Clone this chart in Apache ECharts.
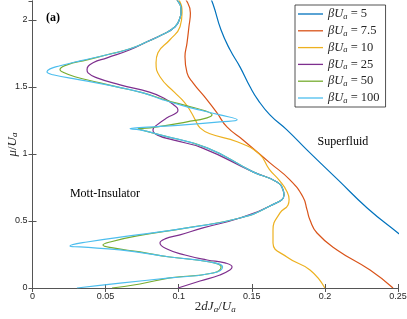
<!DOCTYPE html>
<html><head><meta charset="utf-8">
<script src="https://cdn.jsdelivr.net/npm/echarts@6/dist/echarts.min.js"></script>
<style>html,body{margin:0;padding:0;background:#fff}#c{width:407px;height:319px}</style>
</head><body><div id="c"></div>
<script>
// beta*U_a values (legend)
const betaValues = ['5', '7.5', '10', '25', '50', '100'];
const colors = ['#0072BD', '#D95319', '#EDB120', '#7E2F8E', '#77AC30', '#4DBEEE'];
const xTicks = [0, 0.05, 0.1, 0.15, 0.2, 0.25];
const yTicks = [0, 0.5, 1, 1.5, 2];

// each curve: [2dJ_a/U_a, mu/U_a], ordered along mu
const beta5 = [[0.274,0.2],[0.25,0.41],[0.2289,0.597],[0.209,0.806],[0.1877,1.03],[0.174,1.179],[0.1624,1.291],[0.1542,1.403],[0.1488,1.5],[0.1419,1.649],[0.1351,1.776],[0.1289,1.925],[0.1235,2.116],[0.120,2.2]];
const beta7p5 = [[0.2466,0],[0.2309,0.134],[0.2083,0.284],[0.1946,0.41],[0.1898,0.507],[0.1878,0.582],[0.185,0.679],[0.1761,0.806],[0.1624,0.933],[0.144,1.104],[0.133,1.201],[0.1262,1.306],[0.1194,1.403],[0.1098,1.53],[0.1057,1.604],[0.1043,1.724],[0.1057,1.828],[0.107,1.948],[0.108,2.05],[0.105,2.149],[0.100,2.22]];
const beta10 = [[0.2,0],[0.1898,0.134],[0.174,0.231],[0.1645,0.336],[0.1645,0.433],[0.1693,0.56],[0.1748,0.619],[0.1755,0.66],[0.174,0.72],[0.169,0.8],[0.162,0.885],[0.155,1.0],[0.14,1.09],[0.1214,1.15],[0.1146,1.194],[0.1115,1.25],[0.108,1.32],[0.1035,1.39],[0.097,1.46],[0.0872,1.575],[0.0845,1.679],[0.0858,1.754],[0.094,1.851],[0.1009,1.948],[0.1023,2.052],[0.1002,2.149],[0.095,2.22]];
const beta25 = [[0.0995,0],[0.1146,0.052],[0.1282,0.097],[0.135,0.134],[0.1365,0.157],[0.1317,0.187],[0.1194,0.209],[0.1043,0.246],[0.092,0.291],[0.0872,0.336],[0.0906,0.366],[0.1009,0.396],[0.1166,0.448],[0.1419,0.522],[0.1624,0.612],[0.172,0.694],[0.1714,0.731],[0.1672,0.791],[0.1508,0.866],[0.116,1.045],[0.0961,1.104],[0.0852,1.142],[0.0824,1.179],[0.0852,1.216],[0.092,1.269],[0.0985,1.306],[0.0995,1.328],[0.0965,1.366],[0.09,1.415],[0.08,1.46],[0.0599,1.515],[0.0441,1.567],[0.038,1.604],[0.0373,1.627],[0.0414,1.679],[0.051,1.716],[0.0667,1.776],[0.0783,1.836],[0.0886,1.888],[0.0975,1.948],[0.1009,2.015],[0.1016,2.06],[0.0988,2.149],[0.09,2.22]];
const beta50 = [[0.0544,0],[0.0735,0.03],[0.094,0.075],[0.1235,0.112],[0.129,0.157],[0.1214,0.194],[0.094,0.231],[0.0735,0.269],[0.055,0.299],[0.0482,0.321],[0.053,0.343],[0.0715,0.388],[0.1057,0.448],[0.1419,0.522],[0.1624,0.612],[0.172,0.694],[0.1714,0.731],[0.1672,0.791],[0.1508,0.866],[0.1194,1.045],[0.0872,1.142],[0.077,1.172],[0.0722,1.187],[0.0804,1.194],[0.1057,1.239],[0.1194,1.269],[0.1228,1.291],[0.118,1.321],[0.1057,1.358],[0.0906,1.403],[0.0756,1.455],[0.0578,1.5],[0.0462,1.53],[0.029,1.575],[0.0202,1.612],[0.0188,1.627],[0.0236,1.664],[0.0373,1.701],[0.051,1.739],[0.0667,1.784],[0.0783,1.836],[0.0886,1.888],[0.0975,1.948],[0.1009,2.015],[0.1016,2.06],[0.0988,2.149],[0.09,2.22]];
const beta100 = [[0.0304,0],[0.0599,0.037],[0.094,0.075],[0.1235,0.112],[0.130,0.157],[0.1214,0.194],[0.094,0.231],[0.0599,0.284],[0.0325,0.306],[0.0256,0.313],[0.0373,0.343],[0.0715,0.396],[0.1057,0.448],[0.1419,0.522],[0.1624,0.612],[0.172,0.694],[0.1714,0.731],[0.1672,0.791],[0.1508,0.866],[0.1194,1.045],[0.0872,1.142],[0.0735,1.179],[0.0667,1.187],[0.094,1.209],[0.1282,1.239],[0.14,1.254],[0.1282,1.291],[0.1057,1.351],[0.0893,1.403],[0.0756,1.455],[0.0578,1.5],[0.0325,1.552],[0.014,1.59],[0.0099,1.612],[0.012,1.634],[0.0188,1.657],[0.0325,1.694],[0.051,1.739],[0.0667,1.784],[0.0783,1.836],[0.0886,1.888],[0.0975,1.948],[0.1009,2.015],[0.1016,2.06],[0.0988,2.149],[0.09,2.22]];
const curves = [beta5, beta7p5, beta10, beta25, beta50, beta100];

const serif = 'Liberation Serif';
const sans = 'Liberation Sans';
const axisCol = '#262626';
const rich = {
  i: {fontFamily: serif, fontStyle: 'italic', fontSize: 13, color: axisCol},
  n: {fontFamily: serif, fontSize: 13, color: axisCol},
  s: {fontFamily: serif, fontStyle: 'italic', fontSize: 9, color: axisCol, padding: [5, 0, 0, 0]}
};
const legRich = {
  i: {fontFamily: serif, fontStyle: 'italic', fontSize: 12.5, color: axisCol},
  n: {fontFamily: serif, fontSize: 12.5, color: axisCol},
  s: {fontFamily: serif, fontStyle: 'italic', fontSize: 8.5, color: axisCol, padding: [5, 0, 0, 0]}
};
const fmtNum = v => {
  const t = yTicks.concat(xTicks).find(u => Math.abs(u - v) < 1e-9);
  return t === undefined ? '' : String(t);
};
const baseAxis = {
  axisLine: {show: true, lineStyle: {color: '#555', width: 1}},
  axisTick: {show: true, inside: true, length: 4, lineStyle: {color: '#555'}},
  splitLine: {show: false}
};

const chart = echarts.init(document.getElementById('c'), null, {renderer: 'canvas'});
chart.setOption({
  animation: false,
  backgroundColor: '#fff',
  color: colors,
  grid: {left: 32.5, right: 9, top: 1, bottom: 31, containLabel: false, outerBoundsMode: 'none'},
  legend: {
    orient: 'vertical', left: 295, top: 5,
    backgroundColor: '#fff', borderColor: axisCol, borderWidth: 0.8,
    padding: [2, 6, 2, 3], itemGap: 2.8,
    icon: 'rect', itemWidth: 25, itemHeight: 1.3,
    textStyle: {rich: legRich, lineHeight: 14},
    formatter: name => '{i|βU}{s|a}{n| = ' + name + '}'
  },
  xAxis: [
    Object.assign({}, baseAxis, {type: 'value', min: 0, max: 0.25, interval: 0.05, position: 'bottom',
      axisLabel: {fontFamily: sans, fontSize: 9, color: axisCol, margin: 4, formatter: fmtNum},
      name: '{n|2}{i|dJ}{s|a}{n|/}{i|U}{s|a}', nameLocation: 'middle', nameGap: 12, nameMoveOverlap: false,
      nameTextStyle: {rich: rich}}),
    Object.assign({}, baseAxis, {type: 'value', min: 0, max: 0.25, interval: 0.05, position: 'top', axisLabel: {show: false}})
  ],
  yAxis: [
    Object.assign({}, baseAxis, {type: 'value', min: 0, max: 2.14, interval: 0.5, position: 'left',
      axisLabel: {fontFamily: sans, fontSize: 9, color: axisCol, margin: 5, formatter: fmtNum, showMaxLabel: false},
      name: '{i|μ}{n|/}{i|U}{s|a}', nameLocation: 'middle', nameGap: 13, nameRotate: 90, nameMoveOverlap: false,
      nameTextStyle: {rich: rich}}),
    Object.assign({}, baseAxis, {type: 'value', min: 0, max: 2.14, interval: 0.5, position: 'right', axisLabel: {show: false}})
  ],
  series: curves.map((d, k) => ({
    name: betaValues[k], type: 'line', data: d, xAxisIndex: 0, yAxisIndex: 0,
    showSymbol: false, smooth: 0.5, clip: true,
    lineStyle: {width: 1.2, color: colors[k]}
  }))
});

function place() {
  const items = [
    {text: '(a)', at: [0.0093, 2.015], font: 'bold 12px ' + serif},
    {text: 'Mott-Insulator', at: [0.0256, 0.70], font: '12px ' + serif},
    {text: 'Superfluid', at: [0.195, 1.09], font: '12px ' + serif}
  ];
  chart.setOption({graphic: items.map(it => {
    const p = chart.convertToPixel({xAxisIndex: 0, yAxisIndex: 0}, it.at);
    return {type: 'text', x: p[0], y: p[1], z: 100,
      style: {text: it.text, font: it.font, fill: '#000', textAlign: 'left', textVerticalAlign: 'middle'}};
  })});
}
place();
</script></body></html>
